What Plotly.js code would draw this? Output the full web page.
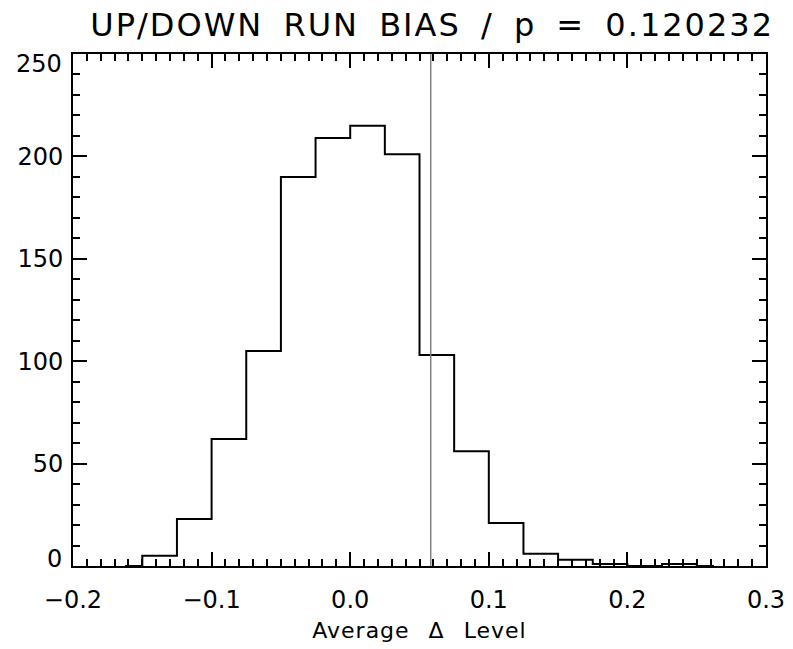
<!DOCTYPE html>
<html>
<head>
<meta charset="utf-8">
<script src="https://cdn.plot.ly/plotly-3.0.1.min.js"></script>
<style>
html,body{margin:0;padding:0;background:#fff;}
#chart{width:793px;height:649px;}
#chart .gtitle{word-spacing:8px;letter-spacing:2px;}
#chart .xtitle{word-spacing:11px;letter-spacing:1px;}
</style>
</head>
<body>
<div id="chart"></div>
<script>
// Histogram bin centres (bin width 0.025) and counts
var binCenters = [-0.1625, -0.1375, -0.1125, -0.0875, -0.0625, -0.0375, -0.0125, 0.0125, 0.0375, 0.0625, 0.0875, 0.1125, 0.1375, 0.1625, 0.1875, 0.2125, 0.2375, 0.2625];
var binCounts  = [0, 5, 23, 62, 105, 190, 209, 215, 201, 103, 56, 21, 6, 3, 1, 0, 1, 0];
var observedValue = 0.0581;
var titleText = "UP/DOWN RUN BIAS / p = 0.120232";
var xTitleText = "Average \u0394 Level";
var xTickVals = [-0.2, -0.1, 0.0, 0.1, 0.2, 0.3];
var xTickText = ["\u22120.2", "\u22120.1", "0.0", "0.1", "0.2", "0.3"];
var yTickVals = [50, 100, 150, 200];        // inner y labels
var yEndTickVals = [0, 250];                 // end labels (drawn slightly inset, as in the original)

var font = "DejaVu Sans, Verdana, sans-serif";

var traces = [
  {
    x: binCenters, y: binCounts, type: "scatter", mode: "lines",
    line: {shape: "hvh", color: "#000", width: 2},
    hoverinfo: "skip", showlegend: false
  },
  {
    x: [observedValue, observedValue], y: [0, 250], type: "scatter", mode: "lines",
    line: {color: "#808080", width: 1.5},
    hoverinfo: "skip", showlegend: false
  }
];

var endAnnotations = yEndTickVals.map(function (v, i) {
  return {
    x: 0, xref: "paper", xanchor: "right", xshift: -9,
    y: v, yref: "y", yanchor: "middle", yshift: (i === 0 ? 7 : -10),
    text: String(v), showarrow: false,
    font: {size: 24, family: font, color: "#000"}
  };
});

var layout = {
  width: 793, height: 649,
  margin: {l: 73, r: 27, t: 54, b: 83},
  paper_bgcolor: "#fff", plot_bgcolor: "#fff",
  font: {family: font, color: "#000"},
  title: {text: titleText, font: {size: 32, family: font, color: "#000"}, x: 0.545, xanchor: "center", y: 0.962, yanchor: "middle"},
  xaxis: {
    range: [-0.2, 0.3], showgrid: false, zeroline: false,
    showline: true, linecolor: "#000", linewidth: 2, mirror: "ticks",
    ticks: "inside", ticklen: 14, tickwidth: 2, tickcolor: "#000",
    tickvals: xTickVals, ticktext: xTickText, ticklabelstandoff: 11,
    tickfont: {size: 24, family: font, color: "#000"},
    minor: {dtick: 0.01, ticks: "inside", ticklen: 7, tickwidth: 2, tickcolor: "#000", showgrid: false},
    title: {text: xTitleText, font: {size: 22, family: font, color: "#000"}, standoff: 10}
  },
  yaxis: {
    range: [0, 250], showgrid: false, zeroline: false,
    showline: true, linecolor: "#000", linewidth: 2, mirror: "ticks",
    ticks: "inside", ticklen: 14, tickwidth: 2, tickcolor: "#000",
    tickvals: yTickVals, ticklabelstandoff: 3,
    tickfont: {size: 24, family: font, color: "#000"},
    minor: {tickvals: [10,20,30,40,60,70,80,90,110,120,130,140,160,170,180,190,210,220,230,240,250,0], ticks: "inside", ticklen: 7, tickwidth: 2, tickcolor: "#000", showgrid: false}
  },
  annotations: endAnnotations
};

Plotly.newPlot("chart", traces, layout, {displayModeBar: false, staticPlot: true});
</script>
</body>
</html>
